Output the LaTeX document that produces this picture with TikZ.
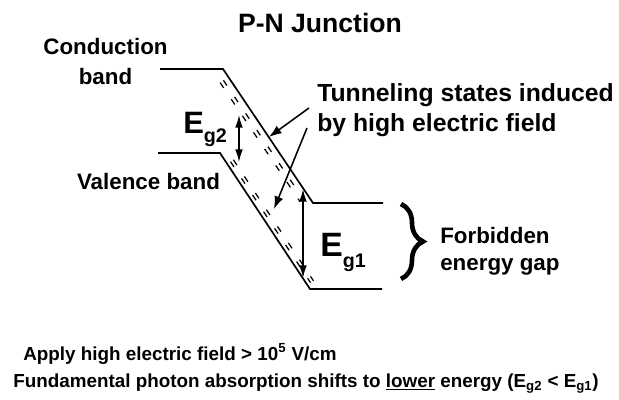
\documentclass[tikz,border=0pt]{standalone}
\usepackage{fontspec}
\setmainfont{Liberation Sans}
\usetikzlibrary{arrows.meta, decorations.pathreplacing, calc, positioning}

\newcommand{\fsz}[1]{\fontsize{#1}{#1}\selectfont}

\begin{document}
\begin{tikzpicture}[x=0.025cm, y=-0.025cm,
    band/.style={line width=1.2pt, line join=miter},
    states/.style={line width=0.9pt, dash pattern=on 4.5pt off 9.7pt},
    label/.style={inner sep=0pt, font=\bfseries\fsz{15.9}},
    gap/.style={<->, >={Latex[length=9pt,width=5.5pt]}, line width=1.1pt},
    pointer/.style={->, >={Latex[length=9pt,width=6.5pt]}, line width=1.1pt}
  ]
  \useasboundingbox (0,0) rectangle (619,400);

  % --- band edges ---
  \coordinate (cbL) at (160,69);
  \coordinate (cbK) at (223,69);
  \coordinate (cbJ) at (313,203);
  \coordinate (cbR) at (383,203);
  \coordinate (vbL) at (158,153);
  \coordinate (vbK) at (220,153);
  \coordinate (vbJ) at (310,289);
  \coordinate (vbR) at (382,289);
  \draw[band] (cbL) -- (cbK) -- (cbJ) -- (cbR);
  \draw[band] (vbL) -- (vbK) -- (vbJ) -- (vbR);

  % tunneling states inside the gap
  \draw[states] ($(cbK)!0.06!(cbJ)+(-5,3.3)$) -- ($(cbK)!0.95!(cbJ)+(-5,3.3)$);
  \draw[states] ($(cbK)!0.06!(cbJ)+(-8.3,5.6)$) -- ($(cbK)!0.95!(cbJ)+(-8.3,5.6)$);
  \draw[states] ($(vbK)!0.08!(vbJ)+(3.3,-2.2)$) -- ($(vbK)!0.97!(vbJ)+(3.3,-2.2)$);
  \draw[states] ($(vbK)!0.08!(vbJ)+(6.2,-4.1)$) -- ($(vbK)!0.97!(vbJ)+(6.2,-4.1)$);

  % --- labels ---
  \node[font=\bfseries\fsz{18.9}, inner sep=0pt, anchor=base] (title) at (320,33) {P-N Junction};
  \node[label, anchor=base] (cond) at (105.5,55) {Conduction};
  \node[label, anchor=base] (condb) at (105.5,85) {band};
  \node[label, anchor=base] (val) at (148.5,190) {Valence band};
  \node[label, font=\bfseries\fsz{17.6}, anchor=base west] (tun) at (317,102) {Tunneling states induced};
  \node[label, font=\bfseries\fsz{17.6}, anchor=base west] (tunb) at (317,132) {by high electric field};
  \node[label, anchor=base west] (forb) at (440,243) {Forbidden};
  \node[label, anchor=base west] (forbb) at (440,270) {energy gap};

  % gap energies
  \node[inner sep=0pt, anchor=base west, font=\bfseries] (eg2) at (183,134) {{\fsz{22}E}\raisebox{-6.4pt}{\fsz{14}g2}};
  \node[inner sep=0pt, anchor=base west, font=\bfseries] (eg1) at (320,257) {{\fsz{24}E}\raisebox{-7.8pt}{\fsz{14}g1}};
  \coordinate (g2t) at (239,115);
  \coordinate (g2b) at (239,162);
  \coordinate (g1t) at (303,189);
  \coordinate (g1b) at (303,278);
  \draw[gap] (g2t) -- (g2b);
  \draw[gap] (g1t) -- (g1b);

  % pointers from the tunneling label
  \coordinate (p1) at (309,108);
  \coordinate (p1e) at (269,137);
  \coordinate (p2) at (307,128);
  \coordinate (p2e) at (274,209);
  \draw[pointer] (p1) -- (p1e);
  \draw[pointer] (p2) -- (p2e);

  % forbidden gap brace
  \draw[decorate, decoration={brace, amplitude=0.55cm}, line width=3.3pt] (401,204) -- (401,279);

  % --- bottom notes ---
  \node[font=\bfseries\fsz{13.4}, inner sep=0pt, anchor=base west] (apply) at (23,360) {Apply high electric field > 10\textsuperscript{5} V/cm};
  \node[font=\bfseries\fsz{13.4}, inner sep=0pt, anchor=base west] (fund) at (13,387) {Fundamental photon absorption shifts to \underline{lower} energy (E\textsubscript{g2} < E\textsubscript{g1})};
\end{tikzpicture}
\end{document}
